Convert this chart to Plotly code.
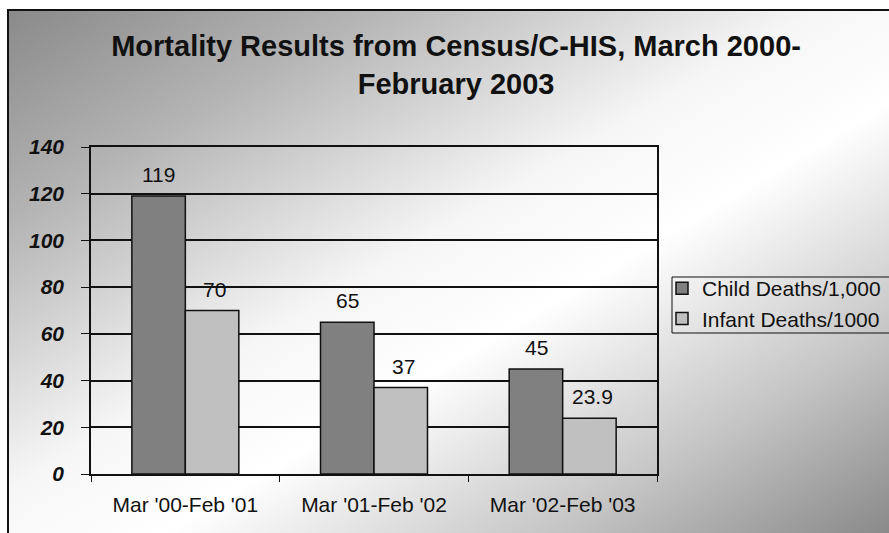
import base64
import plotly.graph_objects as go

categories = ["Mar '00-Feb '01", "Mar '01-Feb '02", "Mar '02-Feb '03"]
child_deaths = [119, 65, 45]
infant_deaths = [70, 37, 23.9]
child_labels = ["119", "65", "45"]
infant_labels = ["70", "37", "23.9"]
y_ticks = [0, 20, 40, 60, 80, 100, 120, 140]

W, H = 889, 533
L, R, T, B = 91, 657, 147, 474
pw, ph = R - L, B - T

svg = (
    '<svg xmlns="http://www.w3.org/2000/svg" width="900" height="540" preserveAspectRatio="none">'
    '<defs><linearGradient id="g" x1="0" y1="0" x2="1" y2="1">'
    '<stop offset="0" stop-color="#8a8a8a"/>'
    '<stop offset="0.2" stop-color="#b4b4b4"/>'
    '<stop offset="0.45" stop-color="#f6f6f6"/>'
    '<stop offset="0.58" stop-color="#ffffff"/>'
    '<stop offset="0.8" stop-color="#c4c4c4"/>'
    '<stop offset="1" stop-color="#858585"/>'
    '</linearGradient></defs>'
    '<rect x="0" y="0" width="900" height="540" fill="url(#g)"/></svg>'
)
src = "data:image/svg+xml;base64," + base64.b64encode(svg.encode()).decode()

fig = go.Figure()
fig.add_trace(go.Bar(
    x=categories, y=child_deaths, name="Child Deaths/1,000",
    marker=dict(color="#808080", line=dict(color="#111111", width=1.5)),
))
fig.add_trace(go.Bar(
    x=categories, y=infant_deaths, name="Infant Deaths/1000",
    marker=dict(color="#c0c0c0", line=dict(color="#111111", width=1.5)),
))

bar_w = 53
lab_font = dict(family="Arial", size=21, color="#111111")
for cat, v, t in zip(categories, child_deaths, child_labels):
    fig.add_annotation(x=cat, y=v, text=t, showarrow=False, xshift=-bar_w / 2,
                       yanchor="bottom", yshift=8, font=lab_font)
for cat, v, t in zip(categories, infant_deaths, infant_labels):
    fig.add_annotation(x=cat, y=v, text=t, showarrow=False, xshift=bar_w / 2 + 3,
                       yanchor="bottom", yshift=8, font=lab_font)

fig.add_layout_image(dict(
    source=src, xref="paper", yref="paper",
    x=(9 - L) / pw, y=1 + (T - 11) / ph,
    sizex=(W + 12 - 9) / pw, sizey=(H + 8 - 11) / ph,
    sizing="stretch", xanchor="left", yanchor="top", layer="below",
))

# outer frame (only top and left edges are inside the picture)
fig.add_shape(type="rect", xref="paper", yref="paper",
              x0=(8 - L) / pw, x1=(W + 20 - L) / pw,
              y0=1 - (H + 20 - T) / ph, y1=1 + (T - 10) / ph,
              line=dict(color="#111111", width=2), fillcolor="rgba(0,0,0,0)",
              layer="above")
# legend box
fig.add_shape(type="rect", xref="paper", yref="paper",
              x0=(672 - L) / pw, x1=(W + 20 - L) / pw,
              y0=1 - (333 - T) / ph, y1=1 - (277 - T) / ph,
              line=dict(color="#111111", width=1), fillcolor="rgba(0,0,0,0)",
              layer="above")

fig.update_layout(
    width=W, height=H,
    margin=dict(l=L, r=W - R, t=T, b=H - B, autoexpand=False),
    paper_bgcolor="white", plot_bgcolor="rgba(0,0,0,0)",
    barmode="group", bargap=0.433, bargroupgap=0,
    title=dict(
        text="Mortality Results from Census/C-HIS, March 2000-<br>February 2003",
        x=0.513, xanchor="center", y=0.895, yanchor="middle",
        font=dict(family="Arial", size=29, color="#111111", weight="bold"),
    ),
    legend=dict(
        x=(662 - L) / pw, xanchor="left", y=1 - (268 - T) / ph, yanchor="top",
        bgcolor="rgba(0,0,0,0)", borderwidth=0,
        font=dict(family="Arial", size=21, color="#111111"),
        tracegroupgap=0, itemwidth=30,
    ),
    showlegend=True,
)
fig.update_xaxes(
    showline=True, linecolor="#111111", linewidth=1.5, mirror=True,
    ticks="outside", tickson="boundaries", ticklen=6, tickcolor="#111111",
    ticklabelstandoff=11,
    tickfont=dict(family="Arial", size=21, color="#111111"),
    showgrid=False,
)
fig.update_yaxes(
    range=[0, 140], tickvals=y_ticks, showline=True, linecolor="#111111",
    linewidth=1.5, mirror=True, ticks="outside", ticklen=8, tickcolor="#111111",
    ticklabelstandoff=13,
    tickfont=dict(family="Arial", size=21, color="#111111", weight="bold", style="italic"),
    showgrid=True, gridcolor="#111111", gridwidth=1.5, zeroline=False,
)

fig.write_html("out.html")
